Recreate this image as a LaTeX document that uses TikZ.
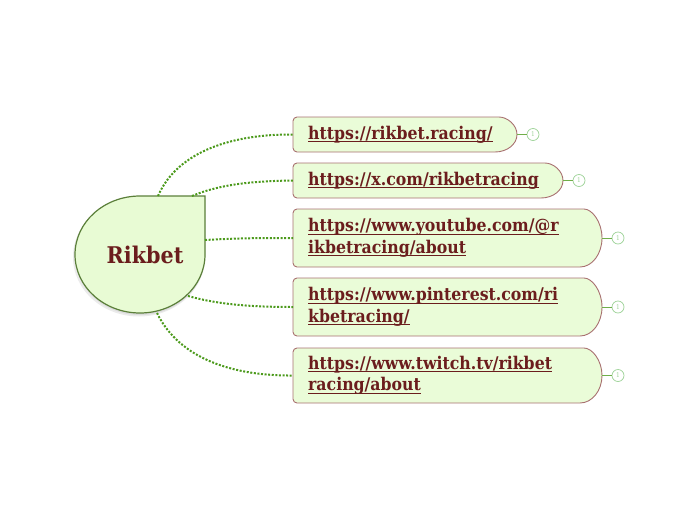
\documentclass[tikz,border=0pt]{standalone}
\usepackage{fontspec}
\newfontfamily\lf{DejaVu Serif Condensed}
\definecolor{txtred}{HTML}{6B1D1D}
\definecolor{boxfill}{HTML}{EAFCD8}
\definecolor{boxline}{HTML}{A87070}
\definecolor{cfill}{HTML}{E8FBD4}
\definecolor{cline}{HTML}{5B7F3A}
\definecolor{conn}{HTML}{4C9A1C}
\definecolor{badgec}{HTML}{9CD296}
\tikzset{
  lbox/.style={draw=boxline, fill=boxfill, line width=0.9pt},
  ltext/.style={anchor=west, align=left, inner sep=0pt, text=txtred, font=\lf\bfseries\fontsize{17.5}{21.5}\selectfont},
  badge/.style={circle, draw=badgec, fill=white, line width=0.7pt, minimum size=12pt, inner sep=0pt, text=badgec, font=\lf\fontsize{6.5}{6.5}\selectfont},
  badgeline/.style={draw=conn!80, line width=0.9pt},
  conline/.style={draw=conn, line width=2pt, dash pattern=on 2pt off 1.6pt},
  central/.style={draw=cline, fill=cfill, line width=1.2pt},
}
\newcommand{\ul}[1]{\leavevmode\setbox0=\hbox{#1}\rlap{\rule[-3pt]{\wd0}{1.2pt}}\box0}
\newcommand{\linkbox}[5]{%
  \draw[lbox] ({#4-22},#2) arc[start angle=270,end angle=450,x radius=22,y radius={(#3-#2)/2}] [rounded corners=4pt] -- (293,#3) -- (293,#2) -- cycle;
  \node[ltext] (#1) at (308,{(#2+#3)/2}) {#5};
  \coordinate (#1w) at (293,{(#2+#3)/2});
  \coordinate (#1e) at (#4,{(#2+#3)/2});
  \node[badge] (#1b) at ({#4+16},{(#2+#3)/2}) {1};
  \draw[badgeline] (#1e) -- (#1b);
}
\begin{document}
\begin{tikzpicture}[x=1pt,y=-1pt]
\useasboundingbox (0,0) rectangle (697,520);
% central node shadow
\fill[black!8] (205,257) arc[start angle=0,end angle=270,x radius=66,y radius=59.5] -- (205,198) -- cycle;
\fill[black!14] (205,256) arc[start angle=0,end angle=270,x radius=65,y radius=59] -- (205,197) -- cycle;
\draw[central] (205,254.5) arc[start angle=0,end angle=270,x radius=65,y radius=58.5] -- (205,196) -- cycle;
\node[text=txtred, font=\lf\bfseries\fontsize{23}{23}\selectfont] (c) at (145,255) {Rikbet};
\coordinate (c1) at (158,196);
\coordinate (c2) at (192,196);
\coordinate (c3) at (205,240);
\coordinate (c4) at (188,296);
\coordinate (c5) at (157,313);
% boxes
\linkbox{b1}{117}{152}{517}{\ul{https://rikbet.racing/}}
\linkbox{b2}{163}{198}{563}{\ul{https://x.com/rikbetracing}}
\linkbox{b3}{209}{267}{602}{\ul{https://www.youtube.com/@r}\\\ul{ikbetracing/about}}
\linkbox{b4}{278}{336}{602}{\ul{https://www.pinterest.com/ri}\\\ul{kbetracing/}}
\linkbox{b5}{348}{403}{602}{\ul{https://www.twitch.tv/rikbet}\\\ul{racing/about}}
% connectors
\draw[conline] (c1) .. controls (178,150) and (235,134) .. (b1w);
\draw[conline] (c2) .. controls (220,184) and (255,181) .. (b2w);
\draw[conline] (c3) .. controls (240,238) and (260,238) .. (b3w);
\draw[conline] (c4) .. controls (220,305) and (255,307) .. (b4w);
\draw[conline] (c5) .. controls (180,360) and (235,376) .. (b5w);
\end{tikzpicture}
\end{document}
